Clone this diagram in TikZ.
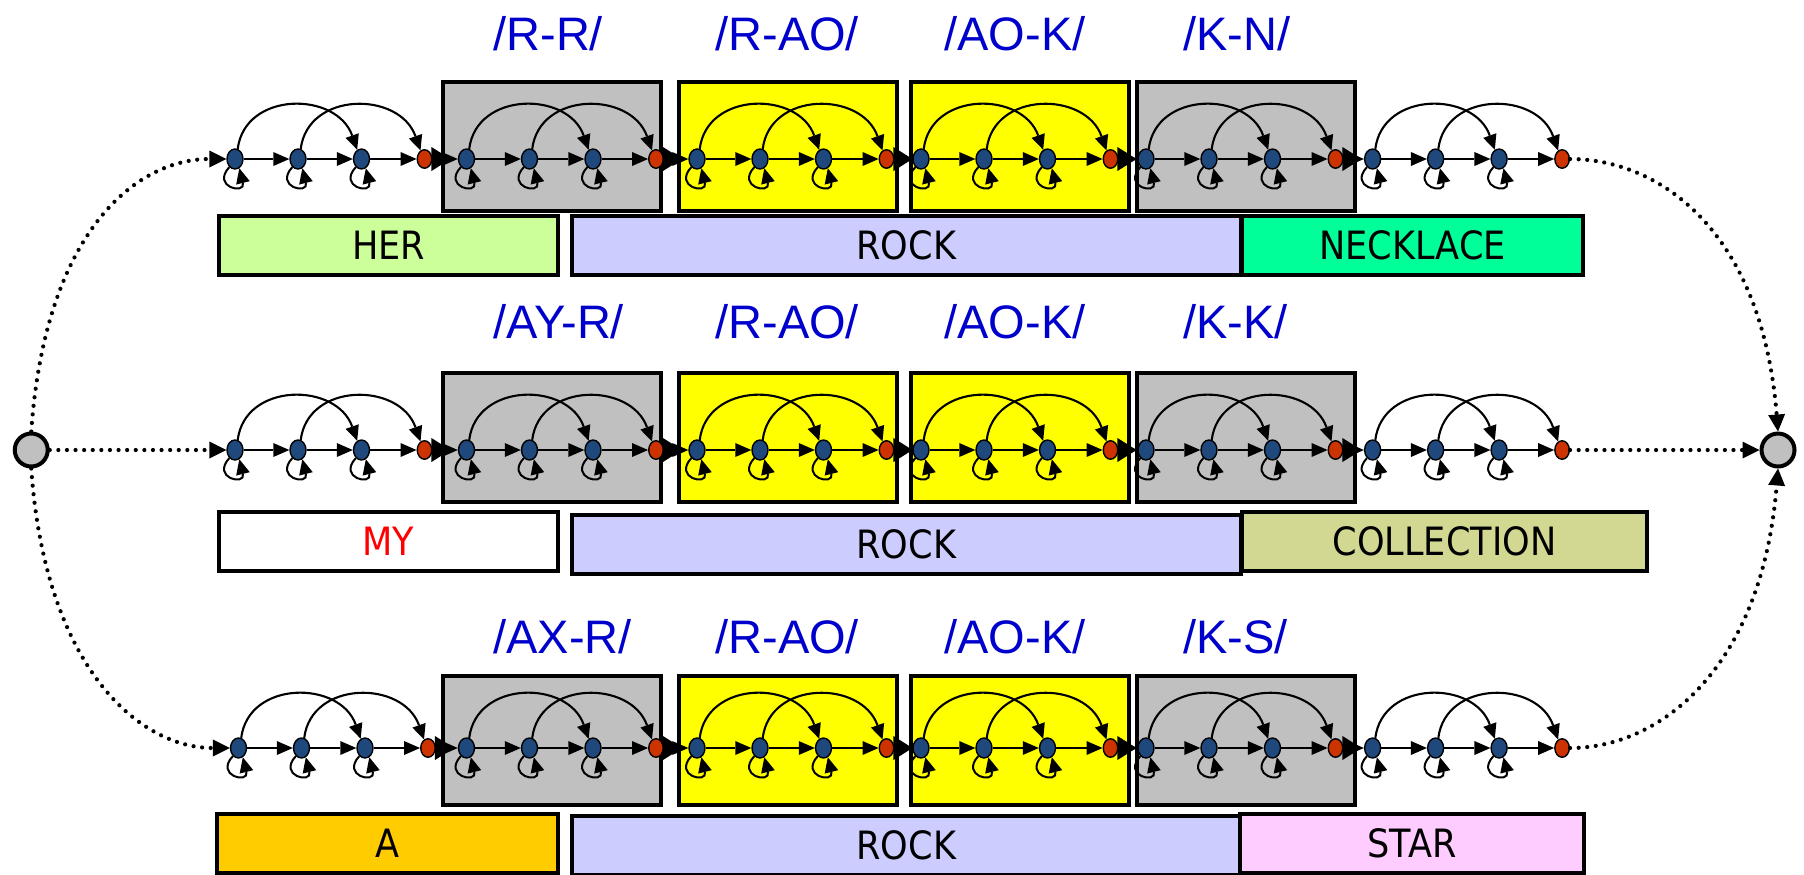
\documentclass[tikz,border=0pt]{standalone}
\usepackage{fontspec}
\setmainfont{Liberation Sans}
\newfontfamily\wordfont{DejaVu Sans}[FakeStretch=0.9]
\usetikzlibrary{arrows.meta,shapes.geometric,calc}
\definecolor{nodeblue}{RGB}{31,73,125}
\definecolor{nodered}{RGB}{204,51,0}
\definecolor{boxgray}{RGB}{192,192,192}
\definecolor{boxyellow}{RGB}{255,255,0}
\definecolor{labelblue}{RGB}{0,0,204}
\definecolor{herc}{RGB}{204,255,153}
\definecolor{rockc}{RGB}{204,204,255}
\definecolor{neckc}{RGB}{0,255,153}
\definecolor{collc}{RGB}{210,216,146}
\definecolor{ac}{RGB}{255,204,0}
\definecolor{starc}{RGB}{255,204,255}
\definecolor{myred}{RGB}{255,0,0}
\begin{document}
\begin{tikzpicture}[x=0.5pt,y=-0.5pt,
  bstate/.style={ellipse,draw=black,line width=0.7pt,fill=nodeblue,minimum width=8pt,minimum height=10pt,inner sep=0pt},
  rstate/.style={ellipse,draw=black,line width=0.7pt,fill=nodered,minimum width=7.25pt,minimum height=9.25pt,inner sep=0pt},
  tr/.style={line width=1pt,-{Triangle[length=8pt,width=7pt,line width=0pt]}},
  arcarrow/.style={line width=1.05pt,-{Triangle[length=7.5pt,width=7pt,line width=0pt]}},
  loopa/.style={line width=1pt,-{Triangle[length=7.5pt,width=7pt,line width=0pt]}},
  dotc/.style={line width=2.1pt,line cap=round,dash pattern=on 0pt off 4.3pt,-{Triangle[length=8.5pt,width=8.5pt,line width=0pt]}},
  sbox/.style={rectangle,draw=black,line width=2pt,minimum width=109pt,minimum height=64.5pt,inner sep=0pt},
  wbox/.style={rectangle,draw=black,line width=2pt,inner sep=0pt,minimum height=29.5pt,font=\wordfont\fontsize{19.5pt}{20pt}\selectfont},
  lab/.style={anchor=base west,inner sep=0pt,text=labelblue,font=\fontsize{23.5pt}{24pt}\selectfont},
  term/.style={circle,draw=black,line width=2pt,fill=boxgray,minimum size=16.5pt,inner sep=0pt}]
\useasboundingbox (0,0) rectangle (1804,874);

% state boxes
\foreach \rw/\cy in {1/146.5,2/437.5,3/740}{
  \node[sbox,fill=boxgray]   (g\rw a) at (552,\cy) {};
  \node[sbox,fill=boxyellow] (y\rw a) at (788,\cy) {};
  \node[sbox,fill=boxyellow] (y\rw b) at (1020,\cy) {};
  \node[sbox,fill=boxgray]   (g\rw b) at (1245.5,\cy) {};
}

% word boxes
\node[wbox,fill=rockc,minimum width=334.75pt] (rock1) at (906.25,245.5) {ROCK};
\node[wbox,fill=herc,minimum width=169.5pt] (her) at (388.5,245.5) {HER};
\node[wbox,fill=neckc,minimum width=170.5pt] (neck) at (1412.5,245.5) {NECKLACE};
\node[wbox,fill=rockc,minimum width=334.75pt] (rock2) at (906.25,544) {ROCK};
\node[wbox,fill=white,minimum width=169.5pt,text=myred] (my) at (388.5,541.5) {MY};
\node[wbox,fill=collc,minimum width=202.5pt] (coll) at (1444.5,541.5) {COLLECTION};
\node[wbox,fill=rockc,minimum width=334.75pt] (rock3) at (906.25,845) {ROCK};
\node[wbox,fill=ac,minimum width=170.5pt] (aw) at (387.5,843.5) {A};
\node[wbox,fill=starc,minimum width=172pt] (star) at (1412,843) {STAR};

% phone-pair labels
\node[lab] (l1a) at (493,50) {/R-R/};
\node[lab] (l1b) at (715,50) {/R-AO/};
\node[lab] (l1c) at (944,50) {/AO-K/};
\node[lab] (l1d) at (1183,50) {/K-N/};
\node[lab] (l2a) at (493,338) {/AY-R/};
\node[lab] (l2b) at (715,338) {/R-AO/};
\node[lab] (l2c) at (944,338) {/AO-K/};
\node[lab] (l2d) at (1183,338) {/K-K/};
\node[lab] (l3a) at (493,653) {/AX-R/};
\node[lab] (l3b) at (715,653) {/R-AO/};
\node[lab] (l3c) at (944,653) {/AO-K/};
\node[lab] (l3d) at (1183,653) {/K-S/};

% states
\foreach \rw/\Y/\sz in {1/159/235,2/450/235,3/748/238.5}{
  \foreach \sg/\X in {0/\sz,1/466.5,2/697,3/921,4/1146,5/1372.6}{
    \node[bstate] (n\rw\sg1) at (\X,\Y) {};
    \node[bstate] (n\rw\sg2) at (\X+63,\Y) {};
    \node[bstate] (n\rw\sg3) at (\X+126.5,\Y) {};
    \node[rstate] (n\rw\sg4) at (\X+189.5,\Y) {};
  }
}

% transitions
\foreach \rw in {1,2,3}{
  \foreach \sg in {0,...,5}{
    \draw[tr] (n\rw\sg1) -- (n\rw\sg2);
    \draw[tr] (n\rw\sg2) -- (n\rw\sg3);
    \draw[tr] (n\rw\sg3) -- (n\rw\sg4);
    \draw[arcarrow] (n\rw\sg1.75) .. controls ($(n\rw\sg1)+(10,-68)$) and ($(n\rw\sg3)+(-25,-68)$) .. (n\rw\sg3.115);
    \draw[arcarrow] (n\rw\sg2.75) .. controls ($(n\rw\sg2)+(10,-68)$) and ($(n\rw\sg4)+(-25,-68)$) .. (n\rw\sg4.115);
    \foreach \ii in {1,2,3}{
      \draw[loopa] (n\rw\sg\ii.235) .. controls ($(n\rw\sg\ii)+(-24,28)$) and ($(n\rw\sg\ii)+(11,36)$) .. (n\rw\sg\ii.-65);
    }
  }
  \foreach \sg [count=\nx from 1] in {0,...,4}{
    \fill ($(n\rw\sg4.east)+(-1,-12)$) -- ($(n\rw\sg4.east)+(18,0)$) -- ($(n\rw\sg4.east)+(-1,12)$) -- cycle;
    \draw[tr] (n\rw\sg4) -- (n\rw\nx1);
  }
}

% start / end states
\node[term] (src) at (31.25,450) {};
\node[term] (snk) at (1778,450) {};

\draw[dotc] (src) -- (n201);
\draw[dotc] (src.north) .. controls ($(src.north)+(14,-200)$) and ($(n101.west)+(-90,0)$) .. (n101.west);
\draw[dotc] (src.south) .. controls ($(src.south)+(14,200)$) and ($(n301.west)+(-90,0)$) .. (n301.west);
\draw[dotc] (n254) -- (snk);
\draw[dotc] (n154.east) .. controls ($(n154.east)+(90,0)$) and ($(snk.north)+(-16,-200)$) .. (snk.north);
\draw[dotc] (n354.east) .. controls ($(n354.east)+(90,0)$) and ($(snk.south)+(-16,200)$) .. (snk.south);
\end{tikzpicture}
\end{document}
